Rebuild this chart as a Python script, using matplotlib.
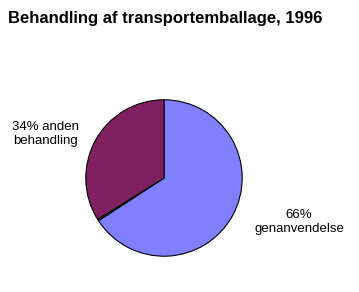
import matplotlib
matplotlib.use("Agg")
import matplotlib.pyplot as plt

plt.rcParams['font.family'] = ['Liberation Sans', 'DejaVu Sans']

title = "Behandling af transportemballage, 1996"
labels = ["66%\ngenanvendelse", "", "34% anden\nbehandling"]
values = [66, 0.3, 34]
colors = ["#8080FF", "#FFFFFF", "#802060"]

W, H = 359, 292
fig = plt.figure(figsize=(W / 100, H / 100), dpi=100)
fig.patch.set_facecolor("white")

# pie box: centre ~(164,178) px, radius ~79 px
cx, cy, r = 164, 178, 79
ax = fig.add_axes([(cx - r) / W, (H - cy - r) / H, 2 * r / W, 2 * r / H])
ax.pie(values, colors=colors, startangle=90, counterclock=False,
       wedgeprops=dict(edgecolor="black", linewidth=0.8))
ax.set_xlim(-1.01, 1.01)
ax.set_ylim(-1.01, 1.01)
ax.set_aspect("equal")
ax.axis("off")

fig.text(8 / W, 1 - 18 / H, title, fontsize=12, fontweight="bold",
         ha="left", va="center")
fig.text(46 / W, 1 - 134 / H, labels[2], fontsize=9.5, ha="center",
         va="center", linespacing=1.3)
fig.text(299 / W, 1 - 222 / H, labels[0], fontsize=9.5, ha="center",
         va="center", linespacing=1.3)

fig.savefig("out.png", dpi=100)
